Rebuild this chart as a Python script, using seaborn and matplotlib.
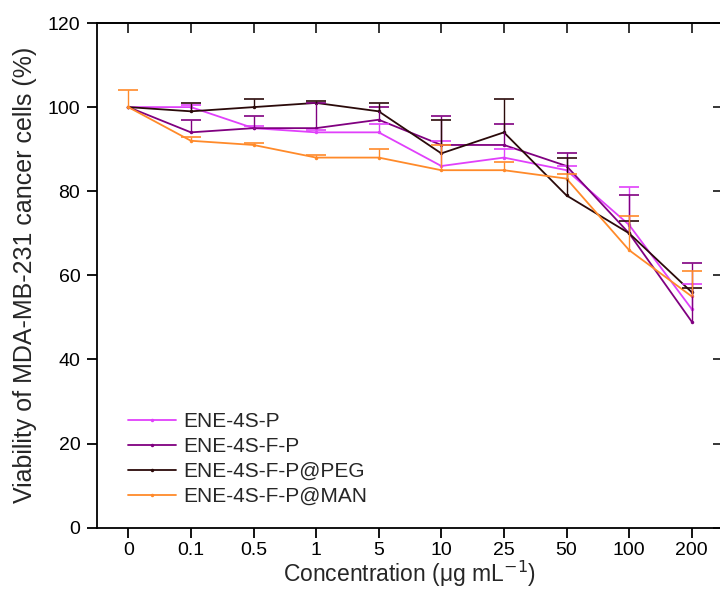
import matplotlib
matplotlib.use("Agg")
import matplotlib.pyplot as plt
import seaborn as sns
import numpy as np
import pandas as pd

# ---- data ----
concentrations = ["0", "0.1", "0.5", "1", "5", "10", "25", "50", "100", "200"]
series_names = ["ENE-4S-P", "ENE-4S-F-P", "ENE-4S-F-P@PEG", "ENE-4S-F-P@MAN"]

v_p = [100, 100, 95, 94, 94, 86, 88, 85, 72, 52]
v_fp = [100, 94, 95, 95, 97, 91, 91, 86, 70, 49]
v_peg = [100, 99, 100, 101, 99, 89, 94, 79, 70, 56]
v_man = [100, 92, 91, 88, 88, 85, 85, 83, 66, 55]

e_p = [0, 0.5, 0.5, 0.5, 2, 6, 2, 1, 9, 6]
e_fp = [0, 3, 3, 6, 3, 7, 5, 3, 9, 14]
e_peg = [0, 2, 2, 0.5, 2, 8, 8, 9, 3, 1]
e_man = [4, 1, 0.5, 0.5, 2, 6, 2, 1, 8, 6]

colors = ["#E040FB", "#800080", "#2B0A0A", "#FF8A2A"]

values = [v_p, v_fp, v_peg, v_man]
errors = [e_p, e_fp, e_peg, e_man]

rows = []
for name, vals in zip(series_names, values):
    for i, v in enumerate(vals):
        rows.append({"pos": i, "viability": v, "sample": name})
df = pd.DataFrame(rows)

# ---- figure ----
sns.set_style("ticks")
plt.rcParams["font.family"] = ["Liberation Sans", "DejaVu Sans"]

fig = plt.figure(figsize=(7.2, 5.92), dpi=100)
ax = fig.add_axes([97 / 720, (592 - 527.7) / 592, (723 - 97) / 720, (527.7 - 23) / 592])

sns.lineplot(data=df, x="pos", y="viability", hue="sample", hue_order=series_names,
             palette=colors, marker="o", markersize=2.5, markeredgewidth=0,
             linewidth=1.3, errorbar=None, ax=ax)

for name, vals, errs, c in zip(series_names, values, errors, colors):
    x = np.arange(len(vals))
    mask = np.array(errs) > 0
    container = ax.errorbar(x[mask], np.array(vals)[mask],
                            yerr=[np.zeros(mask.sum()), np.array(errs)[mask]],
                            fmt="none", ecolor=c, elinewidth=1.0,
                            capsize=7.5, capthick=1.2)
    caps = container[1]
    if len(caps) == 2:
        caps[0].set_visible(False)  # hide the cap drawn at the point itself

ax.set_xlim(-0.5, 9.5)
ax.set_ylim(0, 120)
ax.set_xticks(range(len(concentrations)))
ax.set_xticklabels(concentrations)
ax.set_yticks(np.arange(0, 121, 20))

for s in ["top", "right", "left", "bottom"]:
    ax.spines[s].set_visible(True)
    ax.spines[s].set_linewidth(1.3)
    ax.spines[s].set_color("black")

ax.tick_params(axis="both", which="major", direction="out", length=7, width=1.3,
               labelsize=14, colors="black", pad=5)
ax.tick_params(axis="x", pad=3)
sec_x = ax.secondary_xaxis("top")
sec_x.set_xticks(range(len(concentrations)))
sec_x.tick_params(direction="in", length=7, width=1.3, labeltop=False)
sec_x.spines["top"].set_linewidth(1.3)
sec_y = ax.secondary_yaxis("right")
sec_y.set_yticks(np.arange(0, 121, 20))
sec_y.tick_params(direction="in", length=7, width=1.3, labelright=False)
sec_y.spines["right"].set_linewidth(1.3)
ax.tick_params(top=False, right=False)

ax.set_xlabel("Concentration (μg mL$^{-1}$)", fontsize=16.5, labelpad=0)
ax.set_ylabel("Viability of MDA-MB-231 cancer cells (%)", fontsize=18, labelpad=8)

ax.legend(loc="upper left", bbox_to_anchor=(120 / 720, 1 - 404 / 592),
          bbox_transform=fig.transFigure, frameon=False, fontsize=15,
          handlelength=2.3, handletextpad=0.35, labelspacing=0.28,
          borderaxespad=0, borderpad=0.4, title=None)

fig.savefig("out.png", dpi=100)
